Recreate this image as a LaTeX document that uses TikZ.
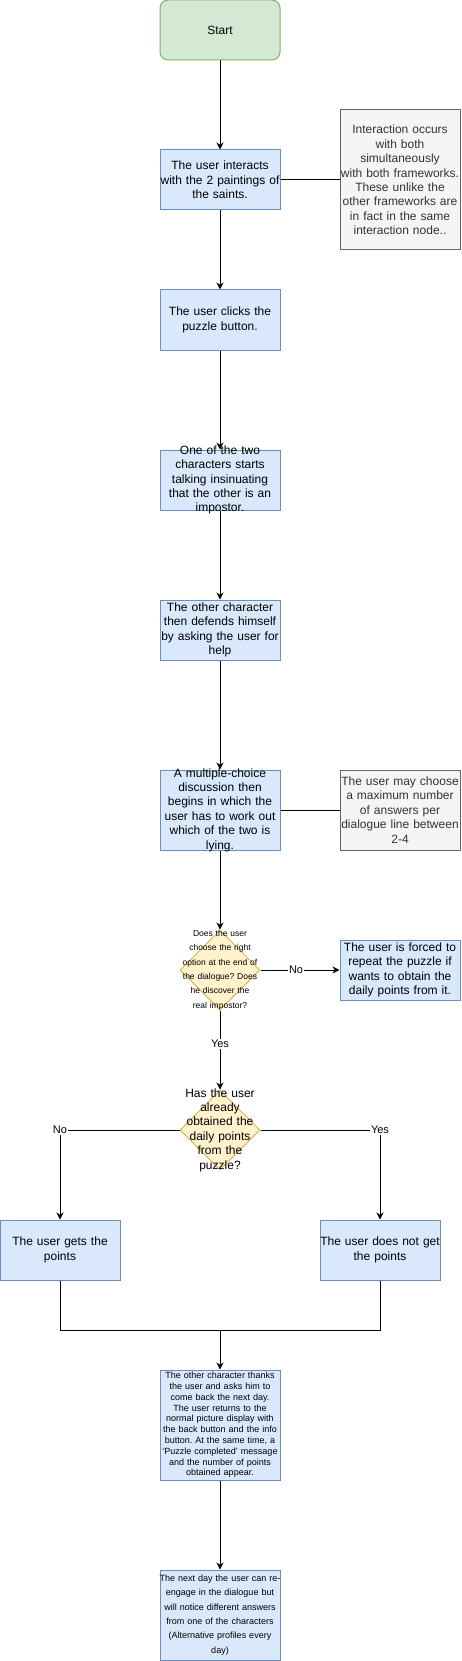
\documentclass[tikz,border=0pt]{standalone}
\usepackage{fontspec}
\setmainfont{Liberation Sans}
\usetikzlibrary{arrows.meta,shapes.geometric}
\frenchspacing

\definecolor{procfill}{HTML}{DAE8FC}
\definecolor{procdraw}{HTML}{6C8EBF}
\definecolor{startfill}{HTML}{D5E8D4}
\definecolor{startdraw}{HTML}{82B366}
\definecolor{decfill}{HTML}{FFF2CC}
\definecolor{decdraw}{HTML}{D6B656}
\definecolor{notefill}{HTML}{F5F5F5}
\definecolor{notedraw}{HTML}{666666}
\definecolor{notetext}{HTML}{333333}

\tikzset{
  base/.style={line width=1pt, align=center, inner ysep=0pt, font=\fontsize{12}{14.4}\selectfont},
  startbox/.style={base, rounded corners=8pt, fill=startfill, draw=startdraw, minimum width=120pt, minimum height=60pt},
  procbox/.style={base, fill=procfill, draw=procdraw, minimum width=120pt, minimum height=60pt, text width=144pt, inner xsep=-12pt},
  notebox/.style={base, fill=notefill, draw=notedraw, text=notetext, minimum width=120pt, text width=144pt, inner xsep=-12pt},
  decbox/.style={base, diamond, inner sep=0pt, fill=decfill, draw=decdraw, minimum width=80pt, minimum height=80pt},
  txt/.style={align=center, inner sep=0pt, font=\fontsize{12}{14.4}\selectfont, text width=144pt},
  arr/.style={line width=1pt, -{Stealth[length=7pt,width=7pt]}},
  link/.style={line width=1pt},
  lbl/.style={fill=white, inner sep=1pt, font=\fontsize{11}{13}\selectfont}
}

\begin{document}
\begin{tikzpicture}[x=1pt,y=-1pt]

\useasboundingbox (0,0) rectangle (461,1661);

\node[startbox] (start) at (220,30) {Start};

\node[procbox] (b1) at (220,180) {The user interacts\\with the 2 paintings of\\the saints.};
\node[notebox, minimum height=140pt] (note1) at (400,180) {Interaction occurs\\with both\\simultaneously\\with both frameworks.\\These unlike the\\other frameworks are\\in fact in the same\\interaction node..};

\node[procbox] (b2) at (220,320) {The user clicks the\\puzzle button.};

\node[procbox] (b3) at (220,480) {};
\node[txt] (b3t) at (b3) {One of the two\\characters starts\\talking insinuating\\that the other is an\\impostor.};

\node[procbox] (b4) at (220,630) {The other character\\then defends himself\\by asking the user for\\help};

\node[procbox, minimum height=80pt] (b5) at (220,810) {};
\node[txt] (b5t) at (b5) {A multiple-choice\\discussion then\\begins in which the\\user has to work out\\which of the two is\\lying.};
\node[notebox, minimum height=80pt] (note2) at (400,810) {The user may choose\\a maximum number\\of answers per\\dialogue line between\\2-4};

\node[decbox] (d1) at (220,970) {};
\node[txt, font=\fontsize{8.5}{14.4}\selectfont] (d1t) at (d1) {Does the user\\choose the right\\option at the end of\\the dialogue? Does\\he discover the\\real impostor?};
\node[procbox] (forced) at (400,970) {The user is forced to\\repeat the puzzle if\\wants to obtain the\\daily points from it.};

\node[decbox] (d2) at (220,1130) {};
\node[txt] (d2t) at (d2) {Has the user\\already\\obtained the\\daily points\\from the\\puzzle?};

\node[procbox] (lbox) at (60,1250) {The user gets the\\points};
\node[procbox] (rbox) at (380,1250) {The user does not get\\the points};

\coordinate (mrg) at (220,1330);

\node[procbox, minimum height=110pt, font=\fontsize{9}{10.8}\selectfont] (b6) at (220,1425) {The other character thanks\\the user and asks him to\\come back the next day.\\The user returns to the\\normal picture display with\\the back button and the info\\button. At the same time, a\\`Puzzle completed' message\\and the number of points\\obtained appear.};

\node[procbox, minimum height=90pt, font=\fontsize{9}{14.4}\selectfont] (b7) at (220,1615) {The next day the user can re-\\engage in the dialogue but\\will notice different answers\\from one of the characters\\(Alternative profiles every\\day)};

\draw[arr] (start) -- (b1);
\draw[link] (b1) -- (note1);
\draw[arr] (b1) -- (b2);
\draw[arr] (b2) -- (b3);
\draw[arr] (b3) -- (b4);
\draw[arr] (b4) -- (b5);
\draw[link] (b5) -- (note2);
\draw[arr] (b5) -- (d1);
\draw[arr] (d1) -- node[lbl, pos=0.45] {No} (forced);
\draw[arr] (d1) -- node[lbl, pos=0.42] {Yes} (d2);
\draw[arr] (d2) -| node[lbl] {No} (lbox);
\draw[arr] (d2) -| node[lbl] {Yes} (rbox);
\draw[link] (lbox) |- (mrg);
\draw[link] (rbox) |- (mrg);
\draw[arr] (mrg) -- (b6);
\draw[arr] (b6) -- (b7);

\end{tikzpicture}
\end{document}
